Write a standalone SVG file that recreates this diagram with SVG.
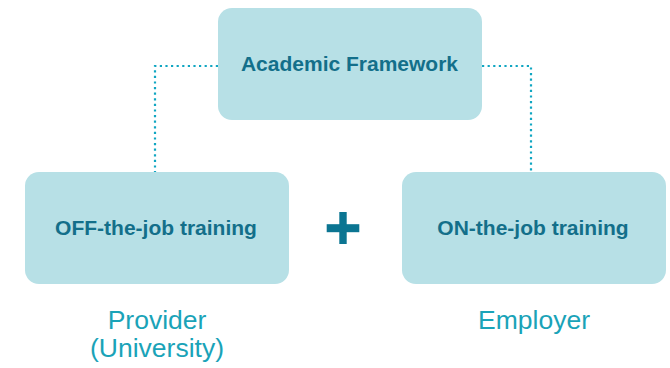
<svg xmlns="http://www.w3.org/2000/svg" width="670" height="368" viewBox="0 0 670 368">
<style>
.box{fill:#b7e0e6}
.t{font-family:"Liberation Sans",Arial,sans-serif;font-weight:bold;font-size:21px;fill:#136f8a;text-anchor:middle}
.l{font-family:"Liberation Sans",Arial,sans-serif;font-size:26.5px;fill:#1aa3b8;text-anchor:middle}
.c{fill:none;stroke:#10a6c2;stroke-width:2.2;stroke-dasharray:2.2 3.4}
</style>
<rect width="670" height="368" fill="#fff"/>
<g id="connectors">
<path class="c" d="M218,66 H155 V172"/>
<path class="c" d="M482,66 H531 V172"/>
</g>
<g id="academic">
<rect class="box" x="218" y="8" width="264" height="112" rx="14"/>
<text class="t" x="349.5" y="71">Academic Framework</text>
</g>
<g id="off">
<rect class="box" x="25" y="172" width="264" height="112" rx="14"/>
<text class="t" x="156" y="235">OFF-the-job training</text>
</g>
<g id="on">
<rect class="box" x="402" y="172" width="264" height="112" rx="14"/>
<text class="t" x="533" y="235">ON-the-job training</text>
</g>
<g id="plus" fill="#0b7592">
<rect x="339.3" y="212" width="7.4" height="32"/>
<rect x="326.7" y="224.2" width="32.6" height="8"/>
</g>
<text class="l" x="157" y="329">Provider</text>
<text class="l" x="157" y="357">(University)</text>
<text class="l" x="534" y="329">Employer</text>
</svg>
